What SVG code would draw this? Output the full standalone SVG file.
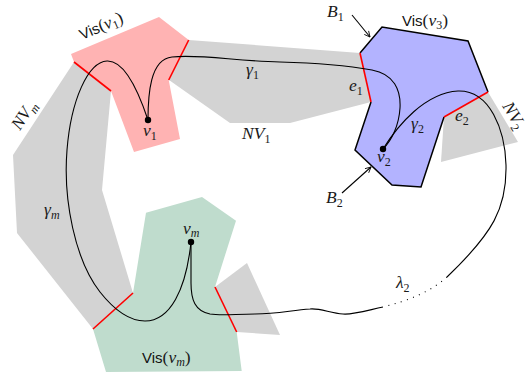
<svg xmlns="http://www.w3.org/2000/svg" width="526" height="376" viewBox="0 0 526 376">
<defs>
<style>
.gray{fill:#d3d3d3;stroke:none}
.red{stroke:#ff0000;stroke-width:1.6;fill:none}
.blk{stroke:#000;stroke-width:1.5;fill:none;stroke-linejoin:miter}
.curve{stroke:#000;stroke-width:1.1;fill:none}
.m{font-family:"Liberation Serif","DejaVu Serif",serif;font-style:italic;font-size:17.5px;fill:#1a1a1a}
.up{font-style:normal}
.sub{font-style:normal;font-size:12px}
.subi{font-style:italic;font-size:12px}
.sans{font-family:"Liberation Sans","DejaVu Sans",sans-serif;font-size:15px;fill:#111}
</style>
<marker id="arr" viewBox="0 0 10 10" refX="9" refY="5" markerWidth="7" markerHeight="7" orient="auto" markerUnits="userSpaceOnUse">
<path d="M1,1 L9,5 L1,9" fill="none" stroke="#000" stroke-width="1.2"/>
</marker>
</defs>
<rect width="526" height="376" fill="#fff"/>

<g id="NVm">
<polygon class="gray" points="74,62 13,155 17,233 93,329 133,293 102,190 111,91"/>
<text class="m" transform="translate(20,131) rotate(-57)">NV<tspan class="subi" dy="4">m</tspan></text>
</g>
<g id="NV1">
<polygon class="gray" points="188.7,40 360,53 371,102 290,123 230,123 169,80"/>
<text class="m" x="242" y="139">NV<tspan class="sub" dy="4">1</tspan></text>
</g>
<g id="NV2">
<polygon class="gray" points="444,117 488,92 518,142 441,162"/>
<text class="m" transform="translate(502,106) rotate(59)">NV<tspan class="sub" dy="4">2</tspan></text>
</g>
<g id="NVtri">
<polygon class="gray" points="215,287 247,263 280,335 237,332"/>
</g>

<g id="vis1">
<polygon fill="#ffb3b3" points="71,54 159,17 188.7,40 168.7,80 180,139 134,152 111,91 74,62"/>
<line class="red" x1="74" y1="62" x2="111" y2="91"/>
<line class="red" x1="188.7" y1="40" x2="168.7" y2="80"/>
<text transform="translate(82,40) rotate(-23)"><tspan class="sans">Vis</tspan><tspan class="m up">(</tspan><tspan class="m">v</tspan><tspan class="m sub" dy="3">1</tspan><tspan class="m up" dy="-3">)</tspan></text>
</g>

<g id="vis3">
<polygon fill="#b3b3ff" points="382,27 468,41 488,92 444,117 421,187 392,185 355,150 371,102 360,53"/>
<polyline class="blk" points="444,117 421,187 392,185 355,150 371,102"/>
<polyline class="blk" points="488,92 468,41 382,27 360,53"/>
<line class="red" x1="360" y1="53" x2="371" y2="102"/>
<line class="red" x1="488" y1="92" x2="444" y2="117"/>
<text x="402" y="26"><tspan class="sans">Vis</tspan><tspan class="m up">(</tspan><tspan class="m">v</tspan><tspan class="m sub" dy="3">3</tspan><tspan class="m up" dy="-3">)</tspan></text>
<text class="m" x="349" y="91">e<tspan class="sub" dy="4">1</tspan></text>
<text class="m" x="455" y="121">e<tspan class="sub" dy="4">2</tspan></text>
</g>

<g id="vism">
<polygon fill="#bfdccd" points="146,212.7 202,197 236,220.7 215,287 236.7,332 241.7,371 106,372 93,329 133,293"/>
<line class="red" x1="93" y1="329" x2="133" y2="293"/>
<line class="red" x1="215" y1="287" x2="236.7" y2="332"/>
<text x="142" y="363"><tspan class="sans">Vis</tspan><tspan class="m up">(</tspan><tspan class="m">v</tspan><tspan class="m subi" dy="3">m</tspan><tspan class="m up" dy="-3">)</tspan></text>
</g>

<g id="connectors">
<path class="curve" d="M148,120 C140,96 126,60 107,61 C88,62 71,100 67,150 C63,200 75,260 100,292 C115,311 130,321 145,321 C170,321 186,290 191,242"/>
<path class="curve" d="M148,120 C148,95 150,59 172,57 C200,54 235,61 280,62 C320,63 350,66 372,70 C394,74 401,90 400,108 C399,125 392,140 383,149"/>
<path class="curve" d="M383,149 C398,125 425,93 458,91 C490,90 505,130 506,165 C507,208 493,233 447,277"/>
<path class="curve" d="M447,277 C430,292 410,300 383,307" stroke-dasharray="1 5.5"/>
<path class="curve" d="M383,307 C365,311 352,315 343,314 C330,313 320,308 310,309 C292,310 278,314 255,314 C235,314 222,316 210,314 C195,311 191,300 191,283 L191,242"/>
<line class="curve" x1="352" y1="15" x2="370" y2="37" marker-end="url(#arr)"/>
<line class="curve" x1="342" y1="193" x2="371" y2="167" marker-end="url(#arr)"/>
</g>

<g id="v1"><circle cx="148" cy="120" r="3.2"/><text class="m" x="143" y="136">v<tspan class="sub" dy="4">1</tspan></text></g>
<g id="v2"><circle cx="383" cy="149" r="3.2"/><text class="m" x="377" y="162">v<tspan class="sub" dy="4">2</tspan></text></g>
<g id="vm"><circle cx="191" cy="242" r="3.2"/><text class="m" x="183" y="234">v<tspan class="subi" dy="3">m</tspan></text></g>

<g id="labels">
<text class="m" x="246" y="75">γ<tspan class="sub" dy="4">1</tspan></text>
<text class="m" x="411" y="129">γ<tspan class="sub" dy="4">2</tspan></text>
<text class="m" x="44" y="215">γ<tspan class="subi" dy="4">m</tspan></text>
<text class="m" x="396" y="288">λ<tspan class="sub" dy="4">2</tspan></text>
<text class="m" x="327" y="17">B<tspan class="sub" dy="4">1</tspan></text>
<text class="m" x="326" y="203">B<tspan class="sub" dy="4">2</tspan></text>
</g>
</svg>
